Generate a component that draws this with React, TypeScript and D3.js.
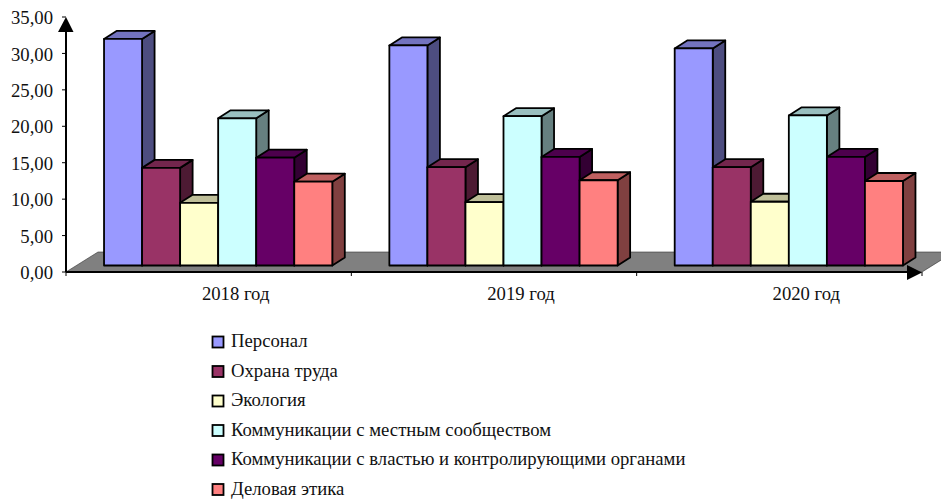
import React from "react";
import * as d3 from "d3";

const categories = ["2018 год", "2019 год", "2020 год"];
const seriesNames = [
  "Персонал",
  "Охрана труда",
  "Экология",
  "Коммуникации с местным сообществом",
  "Коммуникации с властью и контролирующими органами",
  "Деловая этика",
];
const personal = [31.1, 30.2, 29.8];
const safety = [13.4, 13.5, 13.5];
const ecology = [8.6, 8.7, 8.75];
const community = [20.2, 20.5, 20.6];
const authorities = [14.8, 14.9, 14.9];
const ethics = [11.5, 11.7, 11.6];
const seriesValues = [personal, safety, ecology, community, authorities, ethics];
const seriesColors = ["#9999FF", "#993366", "#FFFFCC", "#CCFFFF", "#660066", "#FF8080"];
const valueTicks = [0, 5, 10, 15, 20, 25, 30, 35];

const FONT = "'Liberation Serif', 'Times New Roman', serif";
const WIDTH = 941;
const HEIGHT = 499;
const AXIS_LEFT = 66;
const AXIS_RIGHT = 922;
const AXIS_BOTTOM = 272;
const AXIS_TOP = 17;

// Offsets of the oblique projection
const FLOOR_DX = 32;
const FLOOR_DY = -20;
const BAR_SHIFT_X = 9.5;
const BAR_SHIFT_Y = -6.5;
const BAR_DX = 12.5;
const BAR_DY = -8;

const fmt = d3.formatLocale({
  decimal: ",",
  thousands: " ",
  grouping: [3],
  currency: ["", ""],
}).format(".2f");

const yScale = d3.scaleLinear().domain([0, 35]).range([AXIS_BOTTOM, AXIS_TOP]);
const xScale = d3.scaleBand<string>().domain(categories).range([AXIS_LEFT, AXIS_RIGHT]);
const innerScale = d3
  .scaleBand<number>()
  .domain(d3.range(seriesNames.length))
  .range([0, xScale.bandwidth()])
  .paddingOuter(0.75)
  .paddingInner(0);

const poly = (pts: [number, number][]) => pts.map((p) => p.join(",")).join(" ");
const shade = (c: string, k: number) => {
  const r = d3.rgb(c);
  return d3.rgb(r.r * k, r.g * k, r.b * k).formatHex();
};

export default function App() {
  const base = AXIS_BOTTOM + BAR_SHIFT_Y;
  return (
    <svg
      width={WIDTH}
      height={HEIGHT}
      style={{ position: "absolute", left: 0, top: 0, background: "#fff" }}
      fontFamily={FONT}
    >
      {/* floor of the 3D plot */}
      <polygon
        points={poly([
          [AXIS_LEFT, AXIS_BOTTOM],
          [AXIS_LEFT + FLOOR_DX, AXIS_BOTTOM + FLOOR_DY],
          [AXIS_RIGHT + FLOOR_DX, AXIS_BOTTOM + FLOOR_DY],
          [AXIS_RIGHT, AXIS_BOTTOM],
        ])}
        fill="#808080"
        stroke="#333"
        strokeWidth={0.6}
      />

      {/* bars, left to right so each front hides the previous side face */}
      {categories.map((cat, ci) =>
        seriesValues.map((vals, si) => {
          const x0 = xScale(cat)! + innerScale(si)! + BAR_SHIFT_X;
          const x1 = x0 + innerScale.bandwidth();
          const top = yScale(vals[ci]) + BAR_SHIFT_Y;
          const color = seriesColors[si];
          return (
            <g key={`${cat}-${si}`} stroke="#000" strokeWidth={1.8} strokeLinejoin="round">
              <polygon
                points={poly([
                  [x1, top],
                  [x1 + BAR_DX, top + BAR_DY],
                  [x1 + BAR_DX, base + BAR_DY],
                  [x1, base],
                ])}
                fill={shade(color, 0.5)}
              />
              <polygon
                points={poly([
                  [x0, top],
                  [x0 + BAR_DX, top + BAR_DY],
                  [x1 + BAR_DX, top + BAR_DY],
                  [x1, top],
                ])}
                fill={shade(color, 0.75)}
              />
              <rect x={x0} y={top} width={x1 - x0} height={base - top} fill={color} />
            </g>
          );
        })
      )}

      {/* value axis */}
      <line x1={AXIS_LEFT} x2={AXIS_LEFT} y1={AXIS_BOTTOM} y2={AXIS_TOP + 10} stroke="#000" strokeWidth={2} />
      <polygon
        points={poly([
          [AXIS_LEFT, AXIS_TOP],
          [AXIS_LEFT + 7.5, AXIS_TOP + 15],
          [AXIS_LEFT - 8, AXIS_TOP + 15],
        ])}
        fill="#000"
      />
      {valueTicks.map((t) => (
        <g key={t}>
          <line x1={AXIS_LEFT - 4} x2={AXIS_LEFT} y1={yScale(t)} y2={yScale(t)} stroke="#000" strokeWidth={1} />
          <text x={53} y={yScale(t) + 1} dy="0.33em" textAnchor="end" fontSize={18.7} fill="#111">
            {fmt(t)}
          </text>
        </g>
      ))}

      {/* category axis */}
      <line x1={AXIS_LEFT} x2={AXIS_RIGHT - 10} y1={AXIS_BOTTOM} y2={AXIS_BOTTOM} stroke="#000" strokeWidth={2} />
      <polygon
        points={poly([
          [AXIS_RIGHT, AXIS_BOTTOM + 0.5],
          [AXIS_RIGHT - 15, AXIS_BOTTOM - 7],
          [AXIS_RIGHT - 15, AXIS_BOTTOM + 8],
        ])}
        fill="#000"
      />
      {[...categories.map((c) => xScale(c)!), AXIS_RIGHT].map((x) => (
        <line key={x} x1={x} x2={x} y1={AXIS_BOTTOM} y2={AXIS_BOTTOM + 4} stroke="#000" strokeWidth={1} />
      ))}
      {categories.map((c) => (
        <text
          key={c}
          x={xScale(c)! + xScale.bandwidth() / 2 + 27}
          y={300}
          textAnchor="middle"
          fontSize={18.7}
          fill="#111"
        >
          {c}
        </text>
      ))}

      {/* legend; row pitch keeps the last label's descenders on the page */}
      {seriesNames.map((name, i) => {
        const cy = 342 + i * 29.5;
        return (
          <g key={name}>
            <rect x={212.5} y={cy - 5.5} width={11} height={11} fill={seriesColors[i]} stroke="#000" strokeWidth={1.8} />
            <text x={231} y={cy + 5} fontSize={18.7} fill="#111">
              {name}
            </text>
          </g>
        );
      })}
    </svg>
  );
}
